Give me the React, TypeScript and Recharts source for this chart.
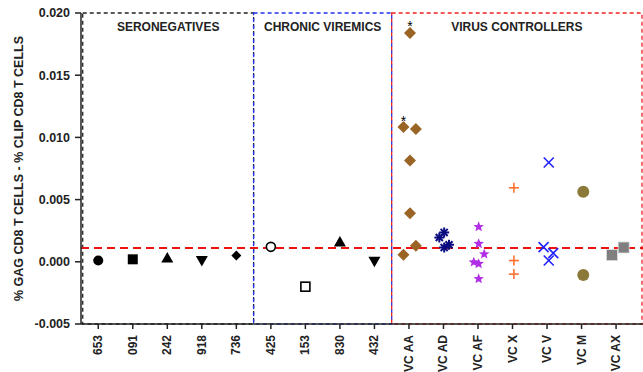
import React from "react";
import {
  ScatterChart,
  Scatter,
  XAxis,
  YAxis,
  ReferenceArea,
  ReferenceLine,
} from "recharts";

// x = category index (+ small jitter), y = %GAG - %CLIP
const CATEGORIES = [
  "653", "091", "242", "918", "736",
  "425", "153", "830", "432",
  "VC AA", "VC AD", "VC AF", "VC X", "VC V", "VC M", "VC AX",
];
const Y_TICKS = [-0.005, 0, 0.005, 0.01, 0.015, 0.02];
const CUTOFF = 0.0011;

const SERONEG = [
  { x: 0, y: 0.0001, shape: "circle" },
  { x: 1, y: 0.0002, shape: "square" },
  { x: 2, y: 0.0003, shape: "triangle" },
  { x: 3, y: 0.0001, shape: "triangleDown" },
  { x: 4, y: 0.0005, shape: "diamondSmall" },
];
const CHRONIC = [
  { x: 5, y: 0.0012, shape: "circleOpen" },
  { x: 6, y: -0.002, shape: "squareOpen" },
  { x: 7, y: 0.0016, shape: "triangle" },
  { x: 8, y: 0.00005, shape: "triangleDown" },
];
const VC_AA = [
  { x: 9.03, y: 0.0184, star: true },
  { x: 8.84, y: 0.01083, star: true },
  { x: 9.2, y: 0.01067 },
  { x: 9.03, y: 0.00814 },
  { x: 9.03, y: 0.0039 },
  { x: 9.2, y: 0.0013 },
  { x: 8.84, y: 0.00056 },
];
const VC_AD = [
  { x: 9.88, y: 0.00195 },
  { x: 10.02, y: 0.00236 },
  { x: 10.02, y: 0.00115 },
  { x: 10.16, y: 0.00137 },
];
const VC_AF = [
  { x: 11.02, y: 0.00281 },
  { x: 11.02, y: 0.00145 },
  { x: 11.18, y: 0.00062 },
  { x: 10.88, y: -0.00003 },
  { x: 11.02, y: -0.00016 },
  { x: 11.02, y: -0.00137 },
];
const VC_X = [
  { x: 12.04, y: 0.00595 },
  { x: 12.04, y: 0.0001 },
  { x: 12.04, y: -0.00099 },
];
const VC_V = [
  { x: 13.05, y: 0.00798 },
  { x: 12.9, y: 0.00118 },
  { x: 13.18, y: 0.0007 },
  { x: 13.05, y: 0.0001 },
];
const VC_M = [
  { x: 14.05, y: 0.00563 },
  { x: 14.05, y: -0.00107 },
];
const VC_AX = [
  { x: 14.88, y: 0.00054 },
  { x: 15.22, y: 0.00115 },
];

const FONT = "Arial, 'Liberation Sans', sans-serif";

function starPath(cx: number, cy: number, r: number, inner: number) {
  let d = "";
  for (let i = 0; i < 10; i++) {
    const a = -Math.PI / 2 + (i * Math.PI) / 5;
    const rr = i % 2 === 0 ? r : inner;
    d += (i === 0 ? "M" : "L") + (cx + rr * Math.cos(a)) + "," + (cy + rr * Math.sin(a));
  }
  return d + "Z";
}

function makeShape(kind: string, color: string) {
  return (props: any) => {
    const { cx, cy, payload } = props;
    const k = payload?.shape ?? kind;
    switch (k) {
      case "circle":
        return <circle cx={cx} cy={cy} r={5} fill={color} />;
      case "circleOpen":
        return <circle cx={cx} cy={cy} r={4.5} fill="#fff" stroke={color} strokeWidth={1.6} />;
      case "square":
        return <rect x={cx - 5} y={cy - 5} width={10} height={10} fill={color} />;
      case "squareOpen":
        return <rect x={cx - 4.5} y={cy - 4.5} width={9} height={9} fill="#fff" stroke={color} strokeWidth={1.6} />;
      case "triangle":
        return <path d={`M${cx},${cy - 6}L${cx + 6},${cy + 4.5}L${cx - 6},${cy + 4.5}Z`} fill={color} />;
      case "triangleDown":
        return <path d={`M${cx},${cy + 6}L${cx + 6},${cy - 4.5}L${cx - 6},${cy - 4.5}Z`} fill={color} />;
      case "diamondSmall":
        return <path d={`M${cx},${cy - 5}L${cx + 5},${cy}L${cx},${cy + 5}L${cx - 5},${cy}Z`} fill={color} />;
      case "diamond":
        return (
          <g>
            <path d={`M${cx},${cy - 6}L${cx + 6},${cy}L${cx},${cy + 6}L${cx - 6},${cy}Z`} fill={color} />
            {payload?.star && (
              <text x={cx} y={cy - 1.5} textAnchor="middle" fontSize={14} fontFamily={FONT} fill="#000">
                *
              </text>
            )}
          </g>
        );
      case "asterisk": {
        const lines = [0, 45, 90, 135].map((deg) => {
          const a = (deg * Math.PI) / 180;
          return (
            <line
              key={deg}
              x1={cx - 5 * Math.cos(a)}
              y1={cy - 5 * Math.sin(a)}
              x2={cx + 5 * Math.cos(a)}
              y2={cy + 5 * Math.sin(a)}
              stroke={color}
              strokeWidth={2}
            />
          );
        });
        return <g>{lines}</g>;
      }
      case "star":
        return <path d={starPath(cx, cy, 5.5, 2.4)} fill={color} />;
      case "plus":
        return (
          <g stroke={color} strokeWidth={1.6}>
            <line x1={cx - 5} y1={cy} x2={cx + 5} y2={cy} />
            <line x1={cx} y1={cy - 5} x2={cx} y2={cy + 5} />
          </g>
        );
      case "cross":
        return (
          <g stroke={color} strokeWidth={1.6}>
            <line x1={cx - 5} y1={cy - 5} x2={cx + 5} y2={cy + 5} />
            <line x1={cx - 5} y1={cy + 5} x2={cx + 5} y2={cy - 5} />
          </g>
        );
      case "circleBig":
        return <circle cx={cx} cy={cy} r={6} fill={color} />;
      case "squareBig":
        return <rect x={cx - 5.5} y={cy - 5.5} width={11} height={11} fill={color} stroke="#ddd" strokeWidth={0.8} />;
      default:
        return <circle cx={cx} cy={cy} r={4} fill={color} />;
    }
  };
}

function XTick(props: any) {
  const { x, y, payload } = props;
  return (
    <text
      x={x}
      y={y + 4}
      transform={`rotate(-90, ${x}, ${y + 4})`}
      textAnchor="end"
      dominantBaseline="central"
      fontSize={12}
      fontWeight="bold"
      fontFamily={FONT}
      fill="#222"
    >
      {CATEGORIES[payload.value]}
    </text>
  );
}

const titleStyle = { fontSize: 12, fontWeight: "bold" as const, fontFamily: FONT, fill: "#222" };

export default function App() {
  return (
    <div style={{ position: "absolute", left: 0, top: 0, background: "#fff" }}>
      <ScatterChart width={643} height={372} margin={{ top: 13, right: 0, bottom: 0, left: 0 }}>
        <XAxis
          type="number"
          dataKey="x"
          domain={[-0.5, 15.78]}
          ticks={CATEGORIES.map((_, i) => i)}
          allowDataOverflow
          height={48}
          tick={<XTick />}
          tickSize={5}
          axisLine={{ stroke: "#222", strokeWidth: 1.5 }}
          tickLine={{ stroke: "#222", strokeWidth: 1.5 }}
          interval={0}
        />
        <YAxis
          type="number"
          dataKey="y"
          domain={[-0.005, 0.02]}
          ticks={Y_TICKS}
          allowDataOverflow
          width={81}
          tickFormatter={(v: number) => v.toFixed(3)}
          tick={{ fontSize: 12.5, fontWeight: "bold", fontFamily: FONT, fill: "#222" }}
          tickSize={6}
          tickMargin={5}
          axisLine={{ stroke: "#222", strokeWidth: 1.5 }}
          tickLine={{ stroke: "#222", strokeWidth: 1.5 }}
          label={{
            value: "% GAG CD8 T CELLS - % CLIP CD8 T CELLS",
            angle: -90,
            position: "insideLeft",
            offset: 19,
            style: { ...titleStyle, fontSize: 12.5, textAnchor: "middle" },
          }}
        />
        <ReferenceArea
          x1={-0.45}
          x2={4.5}
          y1={-0.005}
          y2={0.02}
          fill="none"
          stroke="#222"
          strokeDasharray="4 3"
          strokeWidth={1.3}
          label={{ value: "SERONEGATIVES", position: "insideTop", offset: 9, style: titleStyle }}
        />
        <ReferenceArea
          x1={4.5}
          x2={8.5}
          y1={-0.005}
          y2={0.02}
          fill="none"
          stroke="#2233ee"
          strokeDasharray="4 3"
          strokeWidth={1.3}
          label={{ value: "CHRONIC VIREMICS", position: "insideTop", offset: 9, style: titleStyle }}
        />
        <ReferenceArea
          x1={8.5}
          x2={15.75}
          y1={-0.005}
          y2={0.02}
          fill="none"
          stroke="#ee2222"
          strokeDasharray="4 3"
          strokeWidth={1.3}
          label={{ value: "VIRUS CONTROLLERS", position: "insideTop", offset: 9, style: titleStyle }}
        />
        <ReferenceLine y={CUTOFF} stroke="#ee1111" strokeWidth={2} strokeDasharray="8 5" />
        <Scatter data={SERONEG} shape={makeShape("circle", "#000")} isAnimationActive={false} />
        <Scatter data={CHRONIC} shape={makeShape("circle", "#000")} isAnimationActive={false} />
        <Scatter data={VC_AA} shape={makeShape("diamond", "#9a6424")} isAnimationActive={false} />
        <Scatter data={VC_AD} shape={makeShape("asterisk", "#0c0c80")} isAnimationActive={false} />
        <Scatter data={VC_AF} shape={makeShape("star", "#b02ee6")} isAnimationActive={false} />
        <Scatter data={VC_X} shape={makeShape("plus", "#ff7030")} isAnimationActive={false} />
        <Scatter data={VC_V} shape={makeShape("cross", "#2020ff")} isAnimationActive={false} />
        <Scatter data={VC_M} shape={makeShape("circleBig", "#8c7a3a")} isAnimationActive={false} />
        <Scatter data={VC_AX} shape={makeShape("squareBig", "#7f7f7f")} isAnimationActive={false} />
      </ScatterChart>
    </div>
  );
}
